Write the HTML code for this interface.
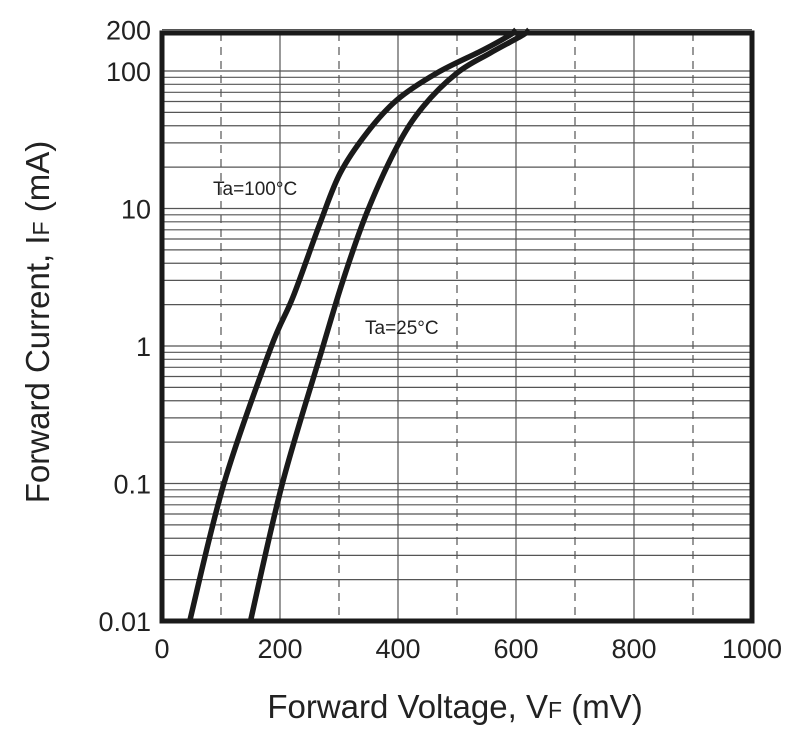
<!DOCTYPE html>
<html><head><meta charset="utf-8"><style>
body{margin:0;background:#fff;}
svg text{font-family:"Liberation Sans",Arial,sans-serif;fill:#222;}
</style></head><body>
<svg id="chart" width="800" height="735" viewBox="0 0 800 735" xmlns="http://www.w3.org/2000/svg">
<g id="grid"></g>
<g id="curves"></g>
<rect x="162" y="33" width="590" height="588" fill="none" stroke="#1a1a1a" stroke-width="5"/>
<g id="ticks"></g>
<text x="213" y="195" font-size="19">Ta=100°C</text>
<text x="365" y="334" font-size="19">Ta=25°C</text>
<text x="455" y="718" font-size="33" text-anchor="middle">Forward Voltage, V<tspan font-size="23">F</tspan> (mV)</text>
<text transform="translate(49,322) rotate(-90)" font-size="33" text-anchor="middle">Forward Current, I<tspan font-size="23">F</tspan> (mA)</text>
</svg>
<script>
const xTicks=[0,200,400,600,800,1000];
const yTickVals=[0.01,0.1,1,10,100,200];
const yTickLabels=["0.01","0.1","1","10","100","200"];
const ta100V=[47,105,183,222,268,302,347,398,466,544,590,600];
const ta100I=[0.01,0.1,0.935,2.27,7.85,18.1,35.4,61.5,96.7,142,183,200];
const ta25V=[150,204,271,307,347,398,442,500,556,612,622];
const ta25I=[0.01,0.1,0.935,3.02,9.28,28,54.7,96.7,135,183,200];
const L=162,R=752,B=621,DEC=137.5;
const xs=v=>L+(v/1000)*(R-L);
const ys=i=>B-(Math.log10(i)+2)*DEC;
const NS="http://www.w3.org/2000/svg";
function mk(t,a,p){const e=document.createElementNS(NS,t);for(const k in a)e.setAttribute(k,a[k]);p.appendChild(e);return e;}
const g=document.getElementById('grid');
for(let d=-2;d<=2;d++){for(let m=1;m<=9;m++){const v=m*Math.pow(10,d);if(v>200)break;
 const l=mk('line',{x1:L,x2:R,y1:ys(v),y2:ys(v),stroke:'#555','stroke-width':1.2},g);
 
 }}
for(let v=100;v<1000;v+=100){const a={x1:xs(v),x2:xs(v),y1:33,y2:B,stroke:'#555','stroke-width':1.2};if(v%200)a['stroke-dasharray']='8,6';
 const l=mk('line',a,g);
 
 }
const tk=document.getElementById('ticks');
xTicks.forEach(v=>{const t=mk('text',{x:xs(v),y:658,'font-size':27,'text-anchor':'middle'},tk);t.textContent=v;
 
 });
yTickVals.forEach((v,i)=>{const t=mk('text',{x:151,y:ys(v)+10,'font-size':27,'text-anchor':'end'},tk);t.textContent=yTickLabels[i];
 
 });
const cg=document.getElementById('curves');
function curve(V,I,name){const p=V.map((v,i)=>[xs(v),ys(I[i])]);let d='M'+p[0][0]+','+p[0][1];
 for(let i=0;i<p.length-1;i++){const p0=p[Math.max(0,i-1)],p1=p[i],p2=p[i+1],p3=p[Math.min(p.length-1,i+2)];
  d+=' C'+(p1[0]+(p2[0]-p0[0])/6)+','+(p1[1]+(p2[1]-p0[1])/6)+' '+(p2[0]-(p3[0]-p1[0])/6)+','+(p2[1]-(p3[1]-p1[1])/6)+' '+p2[0]+','+p2[1];}
 const e=mk('path',{d:d,fill:'none',stroke:'#1a1a1a','stroke-width':5.5,'stroke-linejoin':'round'},cg);
 
 }
curve(ta100V,ta100I,'curve-ta100');
curve(ta25V,ta25I,'curve-ta25');
</script>
</body></html>
